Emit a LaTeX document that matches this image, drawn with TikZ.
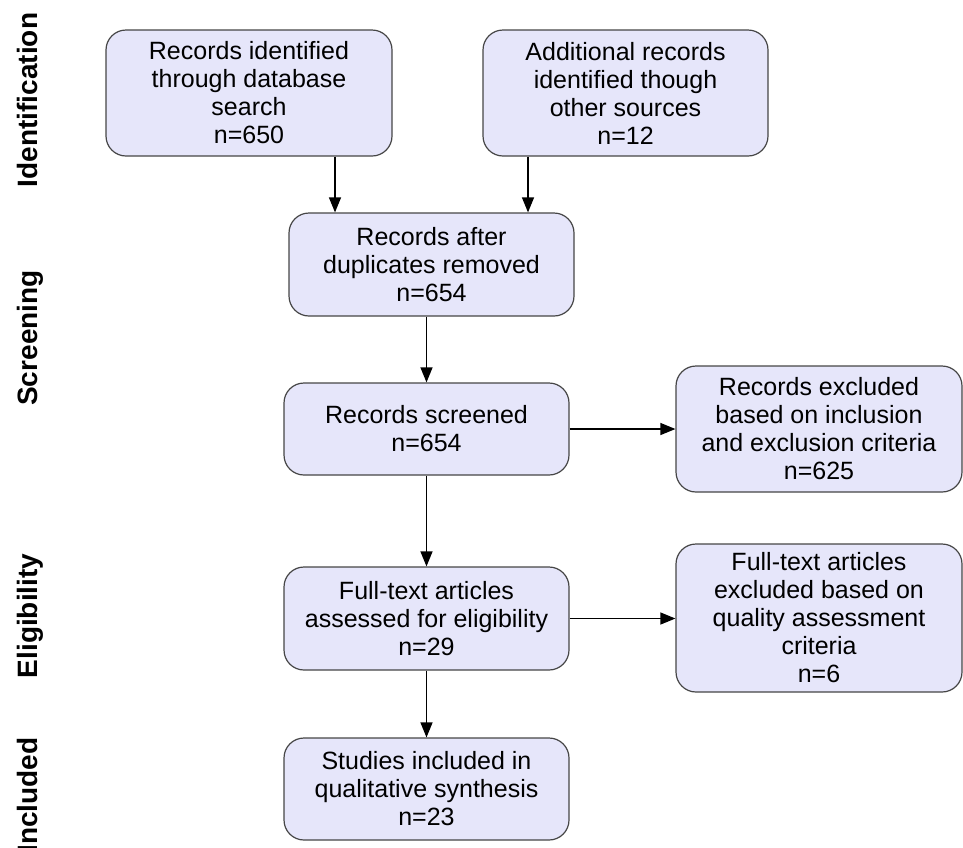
\documentclass[tikz,border=0pt]{standalone}
\usepackage{fontspec}
\setmainfont{Liberation Sans}
\usetikzlibrary{arrows.meta}

\definecolor{boxfill}{RGB}{230,230,250}
\definecolor{boxline}{RGB}{70,70,70}

\begin{document}
\begin{tikzpicture}[x=1pt, y=-1pt,
    stagebox/.style={draw=boxline, line width=1.2pt, fill=boxfill, rounded corners=20pt,
        align=center, inner sep=0pt, font=\fontsize{25}{28}\selectfont},
    phase/.style={rotate=90, anchor=base, font=\bfseries\fontsize{28}{32}\selectfont},
    flow/.style={-{Triangle[length=15pt,width=12pt]}, line width=1.2pt}]
    \useasboundingbox (0,0) rectangle (963,847);

    % Phase labels
    \node[phase] (lid) at (37,100) {Identification};
    \node[phase] (lsc) at (37,338) {Screening};
    \node[phase] (lel) at (37,616) {Eligibility};
    \node[phase] (lin) at (37,795) {Included};

    % Boxes
    \node[stagebox, minimum width=286pt, minimum height=126pt] (db) at (249,93)
        {Records identified\\through database\\search\\n=650};
    \node[stagebox, minimum width=285pt, minimum height=126pt] (other) at (625.5,93)
        {Additional records\\identified though\\other sources\\n=12};
    \node[stagebox, minimum width=285pt, minimum height=103pt] (dup) at (431.5,264.5)
        {Records after\\duplicates removed\\n=654};
    \node[stagebox, minimum width=285pt, minimum height=92pt] (scr) at (426.5,429)
        {Records screened\\n=654};
    \node[stagebox, minimum width=286pt, minimum height=126pt] (excl) at (819,429)
        {Records excluded\\based on inclusion\\and exclusion criteria\\n=625};
    \node[stagebox, minimum width=285pt, minimum height=103pt] (full) at (426.5,618.5)
        {Full-text articles\\assessed for eligibility\\n=29};
    \node[stagebox, minimum width=286pt, minimum height=148pt] (fexcl) at (819,618)
        {Full-text articles\\excluded based on\\quality assessment\\criteria\\n=6};
    \node[stagebox, minimum width=285pt, minimum height=102pt] (incl) at (426.5,789)
        {Studies included in\\qualitative synthesis\\n=23};

    % Arrows
    \coordinate (a1) at (335,0);
    \coordinate (a2) at (528,0);
    \draw[flow] (db.south -| a1) -- (dup.north -| a1);
    \draw[flow] (other.south -| a2) -- (dup.north -| a2);
    \draw[flow] (dup.south -| scr) -- (scr.north);
    \draw[flow] (scr.east) -- (excl.west |- scr.east);
    \draw[flow] (scr.south) -- (full.north);
    \draw[flow] (full.east) -- (fexcl.west |- full.east);
    \draw[flow] (full.south) -- (incl.north);

\end{tikzpicture}
\end{document}
